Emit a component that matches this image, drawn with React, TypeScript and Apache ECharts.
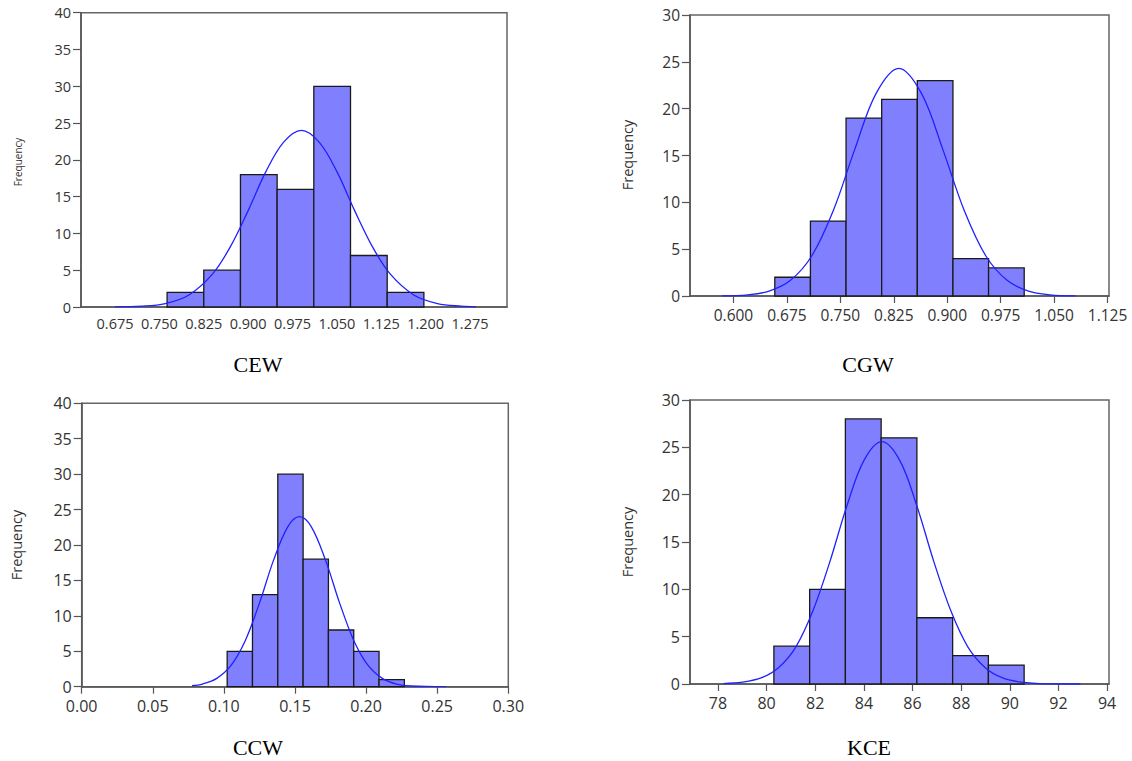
import React, { useEffect, useRef } from "react";
import * as echarts from "echarts";

// ---------- DATA ----------
// CEW
const cewEdges = [0.763, 0.825, 0.887, 0.949, 1.011, 1.073, 1.135, 1.197];
const cewCounts = [2, 5, 18, 16, 30, 7, 2];
const cewCurveX = [0.675, 0.72, 0.76, 0.8, 0.84, 0.87, 0.9, 0.93, 0.96, 0.99, 1.02, 1.05, 1.08, 1.11, 1.14, 1.18, 1.22, 1.26, 1.285];
const cewCurveY = [0.02, 0.11, 0.47, 1.64, 4.5, 8.2, 13.1, 18.4, 22.4, 24.0, 22.4, 18.4, 13.1, 8.2, 4.5, 1.64, 0.47, 0.11, 0.03];
const cewTicks = [0.675, 0.75, 0.825, 0.9, 0.975, 1.05, 1.125, 1.2, 1.275];

// CGW
const cgwEdges = [0.658, 0.708, 0.758, 0.808, 0.858, 0.908, 0.958, 1.008];
const cgwCounts = [2, 8, 19, 21, 23, 4, 3];
const cgwCurveX = [0.584, 0.62, 0.65, 0.68, 0.71, 0.74, 0.77, 0.8, 0.832, 0.864, 0.894, 0.924, 0.954, 0.984, 1.014, 1.044, 1.08];
const cgwCurveY = [0.02, 0.13, 0.52, 1.67, 4.3, 9.1, 15.6, 21.6, 24.3, 21.6, 15.6, 9.1, 4.3, 1.67, 0.52, 0.13, 0.02];
const cgwTicks = [0.6, 0.675, 0.75, 0.825, 0.9, 0.975, 1.05, 1.125];

// CCW
const ccwEdges = [0.1023, 0.1201, 0.1379, 0.1557, 0.1735, 0.1913, 0.2091, 0.2269];
const ccwCounts = [5, 13, 30, 18, 8, 5, 1];
const ccwCurveX = [0.0776, 0.085, 0.095, 0.105, 0.115, 0.125, 0.135, 0.145, 0.1532, 0.1614, 0.1714, 0.1814, 0.1914, 0.2014, 0.2114, 0.2214, 0.2314, 0.2562];
const ccwCurveY = [0.15, 0.38, 1.18, 3.0, 6.5, 11.8, 17.9, 22.6, 24.0, 22.6, 17.9, 11.8, 6.5, 3.0, 1.18, 0.38, 0.1, 0.0];
const ccwTicks = [0, 0.05, 0.1, 0.15, 0.2, 0.25, 0.3];

// KCE
const kceEdges = [80.3, 81.77, 83.24, 84.71, 86.18, 87.65, 89.12, 90.59];
const kceCounts = [4, 10, 28, 26, 7, 3, 2];
const kceCurveX = [78.22, 79.0, 79.8, 80.5, 81.2, 81.9, 82.6, 83.3, 84.0, 84.74, 85.48, 86.18, 86.88, 87.58, 88.28, 88.98, 89.68, 90.48, 91.5, 92.9];
const kceCurveY = [0.05, 0.19, 0.67, 1.75, 3.9, 7.7, 12.9, 18.8, 23.6, 25.6, 23.6, 18.8, 12.9, 7.7, 3.9, 1.75, 0.67, 0.19, 0.02, 0.0];
const kceTicks = [78, 80, 82, 84, 86, 88, 90, 92, 94];

const captions = ["CEW", "CGW", "CCW", "KCE"];
const yAxisName = "Frequency";

// ---------- LAYOUT ----------
const panels = [
  { edges: cewEdges, counts: cewCounts, cx: cewCurveX, cy: cewCurveY, ticks: cewTicks, dec: 3,
    grid: { left: 81, top: 12.7, width: 426, height: 294.3 }, xmin: 0.6175, xmax: 1.3375, ymax: 40,
    xTick: false, fs: 14.5, xm: 9, freqX: 18, freqY: 162, freqFs: 10, capX: 258, capY: 364.5 },
  { edges: cgwEdges, counts: cgwCounts, cx: cgwCurveX, cy: cgwCurveY, ticks: cgwTicks, dec: 3,
    grid: { left: 690, top: 15, width: 419, height: 281 }, xmin: 0.539, xmax: 1.127, ymax: 30,
    xTick: true, fs: 15.5, xm: 11, freqX: 627, freqY: 155, freqFs: 14.5, capX: 868, capY: 364.5 },
  { edges: ccwEdges, counts: ccwCounts, cx: ccwCurveX, cy: ccwCurveY, ticks: ccwTicks, dec: 2,
    grid: { left: 81.7, top: 403.3, width: 426.6, height: 283.4 }, xmin: 0, xmax: 0.3, ymax: 40,
    xTick: true, fs: 16, xm: 11, freqX: 16, freqY: 545, freqFs: 14.5, capX: 258, capY: 747.5 },
  { edges: kceEdges, counts: kceCounts, cx: kceCurveX, cy: kceCurveY, ticks: kceTicks, dec: 0,
    grid: { left: 690, top: 400, width: 419, height: 284 }, xmin: 76.85, xmax: 94.08, ymax: 30,
    xTick: true, fs: 16, xm: 11, freqX: 627, freqY: 542, freqFs: 14.5, capX: 869, capY: 747.5 },
];

const FONT = "'Open Sans', 'Noto Sans', sans-serif";
const AXIS_COLOR = "#555";

export default function App() {
  const ref = useRef<HTMLDivElement>(null);
  useEffect(() => {
    if (!ref.current) return;
    const chart = echarts.init(ref.current, undefined, { renderer: "svg" });
    const grid: any[] = [];
    const xAxis: any[] = [];
    const yAxis: any[] = [];
    const series: any[] = [];
    const graphic: any[] = [];
    panels.forEach((p, i) => {
      grid.push({ ...p.grid, show: true, borderColor: "#666", borderWidth: 1.5, backgroundColor: "transparent" });
      xAxis.push({
        type: "value", gridIndex: i, min: p.xmin, max: p.xmax,
        axisLine: { show: true, onZero: false, lineStyle: { color: AXIS_COLOR, width: 1.5 } },
        axisTick: { show: p.xTick, customValues: p.ticks, length: 7, lineStyle: { color: AXIS_COLOR, width: 1.2 } },
        axisLabel: { customValues: p.ticks, fontSize: p.fs, fontFamily: FONT, color: "#333", margin: p.xm,
          formatter: (v: number) => v.toFixed(p.dec) },
        splitLine: { show: false },
      });
      yAxis.push({
        type: "value", gridIndex: i, min: 0, max: p.ymax, interval: 5,
        axisLine: { show: true, lineStyle: { color: AXIS_COLOR, width: 1.5 } },
        axisTick: { show: true, length: 8, lineStyle: { color: AXIS_COLOR, width: 1.2 } },
        axisLabel: { fontSize: p.fs, fontFamily: FONT, color: "#333", margin: 10 },
        splitLine: { show: false },
      });
      const bins = p.counts.map((c, k) => [p.edges[k], p.edges[k + 1], c]);
      series.push({
        type: "custom", xAxisIndex: i, yAxisIndex: i, data: bins, encode: { x: [0, 1], y: 2 }, z: 2,
        renderItem: (params: any, api: any) => {
          const a = api.coord([api.value(0), api.value(2)]);
          const b = api.coord([api.value(1), 0]);
          return {
            type: "rect",
            shape: { x: a[0], y: a[1], width: b[0] - a[0], height: b[1] - a[1] },
            style: { fill: "#8080ff", stroke: "#1a1a1a", lineWidth: 1.3 },
          };
        },
      });
      series.push({
        type: "line", xAxisIndex: i, yAxisIndex: i, z: 3,
        data: p.cx.map((x, k) => [x, p.cy[k]]),
        smooth: 0.35, showSymbol: false, symbol: "none",
        lineStyle: { color: "#2020ff", width: 1.3 },
      });
      graphic.push({
        type: "text", x: p.freqX, y: p.freqY, rotation: Math.PI / 2,
        style: { text: yAxisName, fontSize: p.freqFs, fontFamily: FONT, fill: "#333", align: "center", verticalAlign: "middle" },
      });
      graphic.push({
        type: "text", x: p.capX, y: p.capY,
        style: { text: captions[i], fontSize: 22, fontFamily: "'Liberation Serif', 'Times New Roman', serif", fill: "#000", align: "center", verticalAlign: "middle" },
      });
    });
    chart.setOption({ animation: false, backgroundColor: "#fff", grid, xAxis, yAxis, series, graphic });
    return () => chart.dispose();
  }, []);
  return <div ref={ref} style={{ position: "absolute", left: 0, top: 0, width: 1132, height: 761 }} />;
}
